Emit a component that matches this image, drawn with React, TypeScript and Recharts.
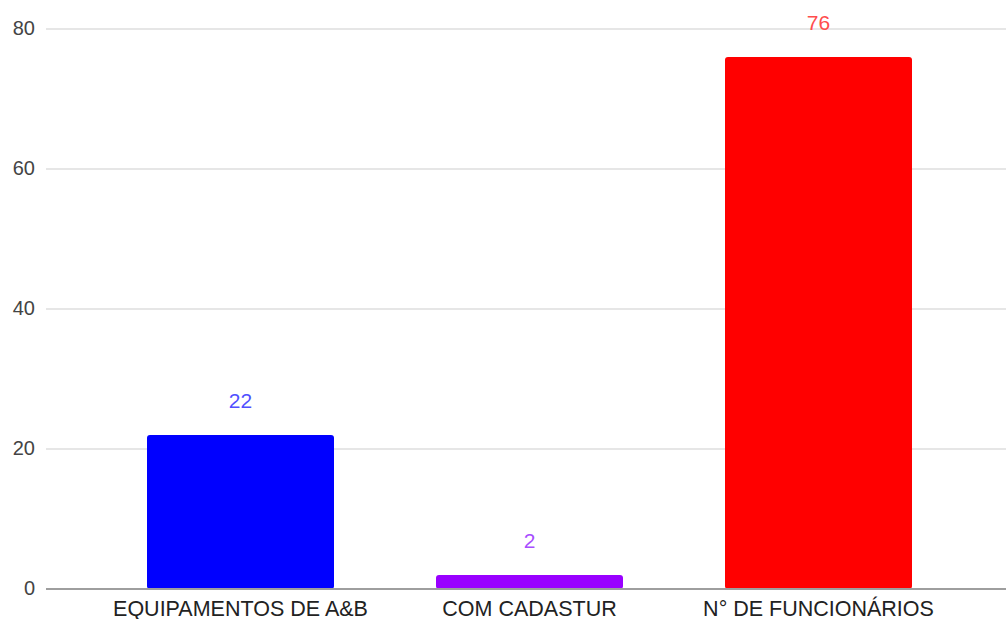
import { BarChart, Bar, XAxis, YAxis, CartesianGrid, Cell, LabelList } from 'recharts';

const categories = ['EQUIPAMENTOS DE A&B', 'COM CADASTUR', 'N° DE FUNCIONÁRIOS'];
const values = [22, 2, 76];
const yTicks = [0, 20, 40, 60, 80];

const barColors = ['#0000ff', '#9900ff', '#ff0000'];
const labelColors = ['#5050ff', '#a84dff', '#ff4d4d'];
const font = '"Liberation Sans", Arial, sans-serif';

const data = categories.map((name, i) => ({ name, value: values[i] }));

function ValueLabel(props: any) {
  const { x, y, width, value, index } = props;
  return (
    <text x={x + width / 2} y={y - 27} textAnchor="middle" fill={labelColors[index]}
      fontSize={21} fontFamily={font}>
      {value}
    </text>
  );
}

export default function App() {
  return (
    <div style={{ position: 'absolute', left: 0, top: 0, width: 1006, height: 619, background: '#fff' }}>
      <BarChart width={1006} height={619} data={data} margin={{ top: 29, right: 0, bottom: 0, left: 0 }}>
        <CartesianGrid vertical={false} stroke="#e6e6e6" strokeWidth={2} />
        <YAxis domain={[0, 80]} ticks={yTicks} width={46} axisLine={false} tickLine={false} tickSize={0}
          tickMargin={11} tick={{ fill: '#444', fontSize: 20, fontFamily: font, dy: -1 }} />
        <XAxis dataKey="name" height={30} padding={{ left: 50, right: 43 }} tickLine={false} tickSize={0}
          tickMargin={12} axisLine={{ stroke: '#9e9e9e', strokeWidth: 2 }}
          tick={{ fill: '#222', fontSize: 21.5, fontFamily: font }} interval={0} />
        <Bar dataKey="value" barSize={187} radius={3} isAnimationActive={false}>
          {data.map((d, i) => (
            <Cell key={d.name} fill={barColors[i]} />
          ))}
          <LabelList dataKey="value" content={ValueLabel} />
        </Bar>
      </BarChart>
    </div>
  );
}
